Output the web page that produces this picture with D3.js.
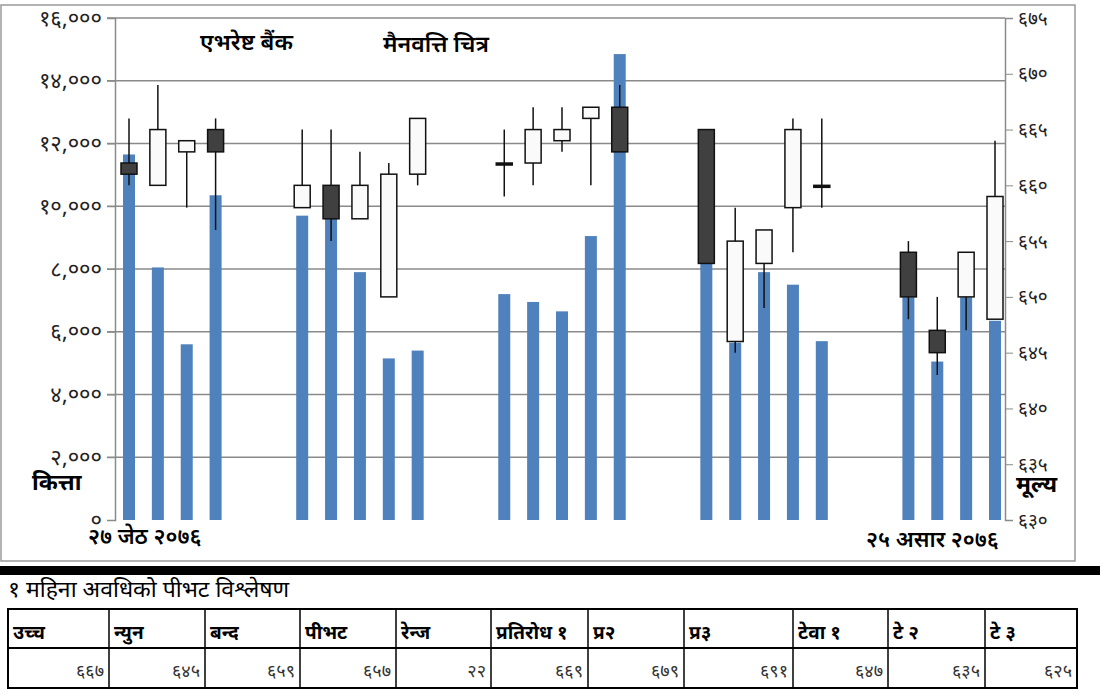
<!DOCTYPE html>
<html>
<head>
<meta charset="utf-8">
<script src="https://cdn.jsdelivr.net/npm/d3@7"></script>
<style>
  body { margin: 0; background: #fff; }
  text { font-family: "Noto Sans Devanagari", "Noto Serif Devanagari", "Noto Sans", sans-serif; }
</style>
</head>
<body>
<svg id="chart" width="1100" height="697"></svg>
<script>
// trading-day slot index (gaps are holidays)
var slots  = [0, 1, 2, 3, 6, 7, 8, 9, 10, 13, 14, 15, 16, 17, 20, 21, 22, 23, 24, 27, 28, 29, 30];
var volume = [11650, 8050, 5600, 10350, 9700, 9600, 7900, 5150, 5400, 7200, 6950, 6650, 9050, 14850,
              8200, 5650, 7900, 7500, 5700, 7100, 5050, 7100, 6350];
var open   = [662, 660, 663, 665, 658, 660, 657, 650, 661, 662, 662, 664, 666, 667, 665, 646, 653, 658, 660, 654, 647, 650, 648];
var high   = [666, 669, 664, 666, 665, 665, 663, 662, 666, 665, 667, 667, 667, 669, 665, 658, 656, 666, 666, 655, 650, 654, 664];
var low    = [660, 660, 658, 656, 658, 655, 657, 650, 660, 659, 660, 663, 660, 663, 653, 645, 649, 654, 658, 648, 643, 647, 648];
var close  = [661, 665, 664, 663, 660, 657, 660, 661, 666, 662, 665, 665, 667, 663, 653, 655, 656, 665, 660, 650, 645, 654, 659];

var volTicks   = [0, 2000, 4000, 6000, 8000, 10000, 12000, 14000, 16000];
var priceTicks = [630, 635, 640, 645, 650, 655, 660, 665, 670, 675];

var tableHead = ["उच्च", "न्युन", "बन्द", "पीभट", "रेन्ज", "प्रतिरोध १", "प्र२", "प्र३", "टेवा १", "टे २", "टे ३"];
var tableVals = [667, 645, 659, 657, 22, 669, 679, 691, 647, 635, 625];
var colEdges  = [8, 109, 205, 300, 396, 491, 588, 684, 793, 888, 985, 1077];

var digits = "०१२३४५६७८९";
function dev(s) { return String(s).replace(/[0-9]/g, function (c) { return digits[+c]; }); }

var svg = d3.select("#chart");
var plotL = 115, plotR = 1005, plotT = 18, plotB = 520;

var x = d3.scaleLinear().domain([0, 30]).range([129, 995]);
var yv = d3.scaleLinear().domain([0, 16000]).range([plotB, plotT]);
var yp = d3.scaleLinear().domain([630, 675]).range([plotB, plotT]);

// frame
svg.append("rect").attr("x", 1).attr("y", 5).attr("width", 1074).attr("height", 556)
   .attr("fill", "none").attr("stroke", "#999").attr("stroke-width", 1.5);

// gridlines
svg.append("g").selectAll("line").data(volTicks.slice(1)).enter().append("line")
   .attr("x1", 107).attr("x2", plotR).attr("y1", yv).attr("y2", yv)
   .attr("stroke", "#8a8a8a").attr("stroke-width", 1.5);

// left axis
var gl = svg.append("g").attr("transform", "translate(" + plotL + ",0)")
   .call(d3.axisLeft(yv).tickValues(volTicks).tickSize(8).tickFormat(function (d) { return dev(d3.format(",")(d)); }));
gl.select(".domain").attr("stroke", "#8a8a8a").attr("stroke-width", 1.5);
gl.selectAll(".tick line").attr("stroke", "#8a8a8a");
gl.selectAll("text").attr("font-size", 22).attr("fill", "#222").attr("dx", -2)
  .style("font-family", "'Noto Sans Devanagari', sans-serif");

// right axis
var gr = svg.append("g").attr("transform", "translate(" + plotR + ",0)")
   .call(d3.axisRight(yp).tickValues(priceTicks).tickSize(8).tickFormat(dev));
gr.select(".domain").attr("stroke", "#8a8a8a").attr("stroke-width", 1.5);
gr.selectAll(".tick line").attr("stroke", "#8a8a8a");
gr.selectAll("text").attr("font-size", 19).attr("fill", "#222").attr("dx", 2)
  .style("font-family", "'Noto Sans Devanagari', sans-serif");

// volume bars
svg.append("g").selectAll("rect").data(slots).enter().append("rect")
   .attr("x", function (s) { return x(s) - 6; })
   .attr("width", 12)
   .attr("y", function (s, i) { return yv(volume[i]); })
   .attr("height", function (s, i) { return plotB - yv(volume[i]); })
   .attr("fill", "#4f81bd");

// candles
var cg = svg.append("g").selectAll("g").data(slots).enter().append("g");
cg.append("line")
   .attr("x1", function (s) { return x(s); }).attr("x2", function (s) { return x(s); })
   .attr("y1", function (s, i) { return yp(high[i]); })
   .attr("y2", function (s, i) { return yp(low[i]); })
   .attr("stroke", "#111").attr("stroke-width", 1.5);
cg.append("rect")
   .attr("x", function (s) { return x(s) - 8; })
   .attr("width", 16)
   .attr("y", function (s, i) { return yp(Math.max(open[i], close[i])); })
   .attr("height", function (s, i) { return Math.max(2, Math.abs(yp(open[i]) - yp(close[i]))); })
   .attr("fill", function (s, i) { return close[i] < open[i] ? "#404040" : (close[i] == open[i] ? "#111" : "#fafafa"); })
   .attr("stroke", "#111").attr("stroke-width", 1.5);

// labels
svg.append("text").attr("x", 200).attr("y", 50).attr("font-size", 23).attr("font-weight", 600).text("एभरेष्ट बैंक");
svg.append("text").attr("x", 383).attr("y", 52).attr("font-size", 23).attr("font-weight", 600).text("मैनवत्ति चित्र");
svg.append("text").attr("x", 32).attr("y", 490).attr("font-size", 23).attr("font-weight", "bold").text("कित्ता");
svg.append("text").attr("x", 1016).attr("y", 492).attr("font-size", 23).attr("font-weight", "bold").text("मूल्य");
svg.append("text").attr("x", 88).attr("y", 544).attr("font-size", 22).attr("font-weight", 600).text("२७ जेठ २०७६");
svg.append("text").attr("x", 866).attr("y", 547).attr("font-size", 22).attr("font-weight", 600).text("२५ असार २०७६");

// separator and table
svg.append("rect").attr("x", 0).attr("y", 566).attr("width", 1100).attr("height", 9).attr("fill", "#000");
svg.append("text").attr("x", 8).attr("y", 597).attr("font-size", 23).text("१ महिना अवधिको पीभट विश्लेषण");

var rowTop = 609, rowMid = 648, rowBot = 688;
svg.append("rect").attr("x", colEdges[0]).attr("y", rowTop)
   .attr("width", colEdges[colEdges.length - 1] - colEdges[0]).attr("height", rowBot - rowTop)
   .attr("fill", "none").attr("stroke", "#000").attr("stroke-width", 2);
svg.append("line").attr("x1", colEdges[0]).attr("x2", colEdges[colEdges.length - 1])
   .attr("y1", rowMid).attr("y2", rowMid).attr("stroke", "#000").attr("stroke-width", 2);
svg.append("g").selectAll("line").data(colEdges.slice(1, -1)).enter().append("line")
   .attr("x1", function (d) { return d; }).attr("x2", function (d) { return d; })
   .attr("y1", rowTop).attr("y2", rowBot).attr("stroke", "#000").attr("stroke-width", 1.5);
svg.append("g").selectAll("text").data(tableHead).enter().append("text")
   .attr("x", function (d, i) { return colEdges[i] + 5; }).attr("y", 639)
   .attr("font-size", 19).attr("font-weight", "bold").text(function (d) { return d; });
svg.append("g").selectAll("text").data(tableVals).enter().append("text")
   .attr("x", function (d, i) { return colEdges[i + 1] - 5; }).attr("y", 677)
   .attr("text-anchor", "end").attr("font-size", 18).attr("fill", "#333").text(dev);
</script>
</body>
</html>
